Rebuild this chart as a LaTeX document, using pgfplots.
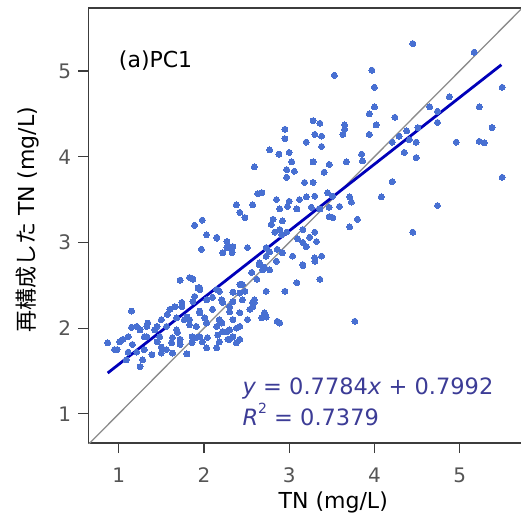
\documentclass[border=0pt]{standalone}
\usepackage{fontspec}
\setmainfont{DejaVu Sans}
\newfontfamily\cjk{Noto Sans CJK JP}
\usepackage{pgfplots}
\usepackage{pgfplotstable}
\pgfplotsset{compat=1.18}
\definecolor{ptc}{RGB}{72,112,210}
\definecolor{regc}{RGB}{0,0,185}
\definecolor{eqc}{RGB}{60,60,150}
\definecolor{spine}{RGB}{60,60,60}
\definecolor{tickc}{RGB}{85,85,85}
\definecolor{idc}{RGB}{140,140,140}

\pgfplotstableread{
x y
4.45 5.32
5.17 5.22
3.53 4.95
3.97 5.01
4.00 4.81
5.50 4.81
4.00 4.58
3.94 4.50
4.24 4.46
4.02 4.37
3.94 4.26
3.65 4.37
3.65 4.32
5.23 4.58
5.38 4.34
4.96 4.17
5.23 4.18
5.29 4.16
5.50 3.76
4.74 4.53
4.65 4.58
4.74 4.40
4.35 4.05
4.49 3.99
4.21 3.71
4.08 3.53
4.74 3.43
4.45 3.12
3.63 4.26
3.85 4.03
3.86 3.95
3.67 3.94
4.21 4.17
4.29 4.24
4.41 4.20
4.49 4.17
4.38 4.30
4.51 4.34
4.88 4.70
2.95 4.32
2.95 4.21
3.28 4.42
3.36 4.39
3.30 4.26
3.38 4.24
3.20 4.17
3.38 4.12
2.77 4.08
2.88 4.03
3.00 4.05
3.03 3.94
2.97 3.85
3.06 3.83
2.97 3.76
3.28 3.94
3.47 3.91
3.41 3.82
2.59 3.88
3.18 3.70
3.28 3.70
2.68 3.58
2.63 3.57
2.85 3.50
3.00 3.48
3.12 3.50
3.20 3.53
3.30 3.54
3.45 3.58
3.51 3.54
3.71 3.53
2.38 3.44
2.57 3.44
2.42 3.35
2.48 3.29
2.89 3.39
2.98 3.42
3.09 3.39
3.26 3.41
3.36 3.39
3.47 3.41
3.59 3.42
3.73 3.47
3.51 3.29
3.80 3.27
3.71 3.18
1.89 3.20
1.98 3.26
2.03 3.09
2.15 3.06
2.27 3.01
2.30 2.95
1.97 2.92
2.51 2.94
2.81 3.27
2.92 3.25
2.89 3.15
2.83 3.12
2.97 3.12
3.16 3.15
3.24 3.06
3.30 3.12
3.10 3.04
3.20 2.95
2.73 2.94
2.86 2.92
3.38 2.84
3.04 2.84
2.73 2.84
2.79 3.21
2.91 3.09
3.16 3.00
3.32 3.01
3.47 3.30
3.16 2.74
3.30 2.82
3.09 2.53
3.36 2.57
2.77 2.89
2.92 2.88
2.69 2.68
2.59 2.33
1.72 2.56
1.86 2.58
1.15 2.20
0.87 1.83
2.89 2.06
3.77 2.08
2.73 2.43
2.95 2.43
3.16 2.73
3.30 2.78
2.73 2.13
2.71 2.18
2.38 1.83
2.30 1.87
2.15 1.77
2.03 1.77
1.80 1.70
1.63 1.71
1.50 1.71
1.39 1.69
1.25 1.55
1.28 1.63
1.09 1.63
1.05 1.87
0.98 1.75
1.15 2.01
1.25 1.98
1.33 1.90
1.45 1.84
1.63 1.89
1.72 1.87
1.86 1.83
1.95 1.90
2.04 1.89
2.16 1.92
2.27 1.96
2.42 2.02
2.21 2.06
2.34 2.10
2.51 2.10
2.57 2.25
2.45 2.33
2.34 2.42
2.42 2.51
2.15 2.45
1.95 2.45
2.03 2.33
2.21 2.33
2.30 2.25
2.10 2.22
1.95 2.18
1.83 2.10
1.68 2.12
1.60 2.22
1.74 2.25
1.87 2.31
1.56 2.02
1.45 2.02
1.33 2.02
2.03 2.06
1.91 2.02
2.15 2.02
2.30 1.98
2.38 2.00
1.68 1.98
1.48 1.90
1.01 1.84
1.16 1.81
1.21 1.72
1.72 1.81
1.56 1.75
1.98 1.84
2.18 1.84
2.34 1.90
2.57 2.30
2.48 2.43
2.62 2.57
2.77 2.68
2.85 2.78
2.65 2.76
2.15 3.05
2.34 2.95
2.27 2.94
1.83 2.59
1.95 2.47
2.22 2.88
2.33 2.88
1.87 2.57
1.93 2.47
2.18 2.43
2.10 2.36
2.22 2.30
2.34 2.31
2.42 2.41
2.45 2.51
2.56 2.65
2.65 2.74
2.71 2.71
2.30 2.19
2.42 2.18
2.54 2.22
2.59 2.30
1.80 2.13
1.95 2.20
2.01 2.12
1.83 2.04
2.18 2.10
2.22 1.96
2.42 1.87
2.28 1.87
1.91 1.89
2.68 2.12
2.86 2.08
0.95 1.75
1.11 1.90
1.21 2.02
1.34 2.06
1.42 1.98
1.30 1.90
1.50 2.10
1.57 2.16
1.66 2.25
1.74 2.30
1.89 2.37
1.77 2.10
1.69 1.95
1.86 1.90
1.62 1.83
1.50 1.78
1.30 1.75
1.11 1.72
}\ptstable

\begin{document}
\begin{tikzpicture}
\begin{axis}[
  scale only axis,
  width=432.5bp, height=435bp,
  xmin=0.645, xmax=5.72, ymin=0.66, ymax=5.735,
  axis x line=box, axis y line=left,
  axis line style={-, draw=spine, line width=1.2bp},
  tick pos=left, tick align=outside,
  major tick length=10bp,
  every tick/.style={draw=spine, line width=1.2bp},
  xtick={1,2,3,4,5}, ytick={1,2,3,4,5},
  /pgf/number format/assume math mode=true,
  tick label style={font=\fontsize{20bp}{24bp}\selectfont, text=tickc},
  xticklabel style={yshift=-11bp},
  yticklabel style={xshift=-4bp},
  label style={font=\fontsize{22bp}{26bp}\selectfont},
  xlabel={TN (mg/L)},
  ylabel={{\cjk 再構成した} TN (mg/L)},
  xlabel style={at={(axis description cs:0.566,-0.1365)}, anchor=center},
  ylabel style={at={(axis description cs:-0.140,0.513)}, anchor=center},
  clip=true,
]
\addplot[only marks, mark=*, color=ptc, mark size=3bp, mark options={draw=ptc, fill=ptc, line width=0pt}] table[x=x, y=y] {\ptstable};
\addplot[idc, line width=1.3bp] coordinates {(0.6,0.6) (5.8,5.8)};
\addplot[regc, line width=2.8bp] coordinates {(0.87,1.4764) (5.49,5.0726)};
\node[anchor=west, inner sep=0pt, font=\fontsize{22bp}{26bp}\selectfont] at (axis cs:1.0,5.12) {(a)PC1};
\node[anchor=west, inner sep=0pt, text=eqc, font=\fontsize{22.5bp}{26bp}\selectfont] at (axis cs:2.45,1.30) {\textit{y} = 0.7784\textit{x} + 0.7992};
\node[anchor=west, inner sep=0pt, text=eqc, font=\fontsize{22.5bp}{26bp}\selectfont] at (axis cs:2.45,0.99) {\textit{R}\raisebox{0.55em}{\fontsize{14bp}{14bp}\selectfont 2} = 0.7379};
\end{axis}
\pgfresetboundingbox
\path[use as bounding box] ([xshift=-88.5bp,yshift=-80bp]current axis.south west) rectangle ([yshift=8bp]current axis.north east);
\end{tikzpicture}
\end{document}
